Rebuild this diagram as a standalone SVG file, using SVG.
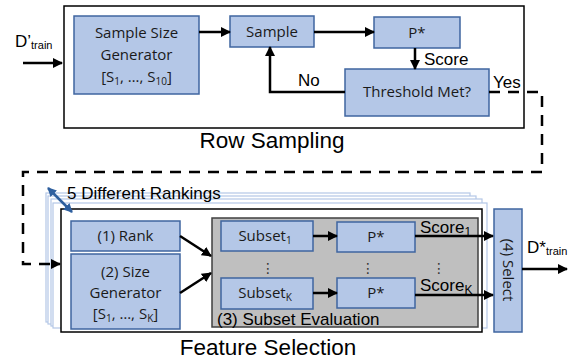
<svg xmlns="http://www.w3.org/2000/svg" width="574" height="362" viewBox="0 0 574 362">
  <style>
    .frame { fill: #ffffff; stroke: #000000; stroke-width: 1.5; }
    .stack { fill: #ffffff; stroke: #b4c7e7; stroke-width: 1.2; }
    .box { fill: #b4c7e7; stroke: #3f65a0; stroke-width: 1.5; }
    .eval { fill: #bfbfbf; stroke: #404040; stroke-width: 1.5; }
    .btxt { font-family: "Open Sans", "Liberation Sans", sans-serif; font-size: 15px; fill: #1a1a1a; text-anchor: middle; }
    .lbl { font-family: "Liberation Sans", Arial, sans-serif; font-size: 17px; fill: #000000; }
    .title { font-family: "Liberation Sans", Arial, sans-serif; font-size: 22.5px; fill: #000000; }
    .dots { font-family: "DejaVu Sans", sans-serif; font-size: 14px; fill: #333333; text-anchor: middle; }
    .conn { fill: none; stroke: #000000; stroke-width: 2.5; }
    .dash { fill: none; stroke: #000000; stroke-width: 2.5; stroke-dasharray: 11 8; }
  </style>
  <defs>
    <marker id="arrow" markerUnits="userSpaceOnUse" markerWidth="10" markerHeight="10" viewBox="0 0 10 10" refX="9" refY="5" orient="auto">
      <path d="M0,0 L10,5 L0,10 z" fill="#000000"/>
    </marker>
    <marker id="arrowBlue" markerUnits="userSpaceOnUse" markerWidth="9" markerHeight="9" viewBox="0 0 10 10" refX="9" refY="5" orient="auto-start-reverse">
      <path d="M0,0 L10,5 L0,10 z" fill="#2e5f9e"/>
    </marker>
  </defs>

  <!-- Row sampling stage -->
  <g id="row-sampling">
    <rect class="frame" x="64" y="6" width="460" height="122"/>
    <text class="title" x="272" y="148" text-anchor="middle">Row Sampling</text>
  </g>

  <g id="input-label">
    <text class="lbl" x="15" y="47" font-size="18">D’<tspan font-size="11" dy="2">train</tspan></text>
  </g>

  <g id="sample-size-generator">
    <rect class="box" x="74" y="16" width="125" height="78"/>
    <text class="btxt" x="136.5" y="38">Sample Size</text>
    <text class="btxt" x="136.5" y="60">Generator</text>
    <text class="btxt" x="136.5" y="82">[S<tspan font-size="10" dy="3">1</tspan><tspan dy="-3">, …, S</tspan><tspan font-size="10" dy="3">10</tspan><tspan dy="-3">]</tspan></text>
  </g>

  <g id="sample">
    <rect class="box" x="230" y="16" width="84" height="31"/>
    <text class="btxt" x="272" y="37">Sample</text>
  </g>

  <g id="p-star-row">
    <rect class="box" x="374" y="17" width="86" height="31"/>
    <text class="btxt" x="417" y="38">P*</text>
  </g>

  <g id="threshold">
    <rect class="box" x="345" y="69" width="144" height="47"/>
    <text class="btxt" x="417" y="97">Threshold Met?</text>
  </g>

  <!-- Feature selection stage: stacked frames for the rankings -->
  <g id="feature-selection">
    <rect class="stack" x="46" y="193" width="424" height="129"/>
    <rect class="stack" x="48" y="196" width="428" height="128"/>
    <rect class="stack" x="51" y="199" width="431" height="127"/>
    <rect class="stack" x="53" y="203" width="434" height="125"/>
    <rect class="frame" x="61" y="209" width="421" height="123"/>
    <line x1="48" y1="188" x2="72" y2="212" stroke="#2e5f9e" stroke-width="2.5" marker-start="url(#arrowBlue)" marker-end="url(#arrowBlue)"/>
    <text class="lbl" x="67" y="199">5 Different Rankings</text>
    <text class="title" x="268" y="355" text-anchor="middle">Feature Selection</text>
  </g>

  <g id="rank">
    <rect class="box" x="71" y="221" width="109" height="30"/>
    <text class="btxt" x="125.5" y="241">(1) Rank</text>
  </g>

  <g id="size-generator">
    <rect class="box" x="71" y="254" width="109" height="75"/>
    <text class="btxt" x="125.5" y="277">(2) Size</text>
    <text class="btxt" x="125.5" y="298">Generator</text>
    <text class="btxt" x="125.5" y="319">[S<tspan font-size="10" dy="3">1</tspan><tspan dy="-3">, …, S</tspan><tspan font-size="10" dy="3">K</tspan><tspan dy="-3">]</tspan></text>
  </g>

  <g id="subset-evaluation">
    <rect class="eval" x="212" y="218" width="266" height="109"/>
    <text class="lbl" x="217" y="325" font-size="17.5">(3) Subset Evaluation</text>
    <text class="dots" x="268" y="273">⋮</text>
    <text class="dots" x="368" y="273">⋮</text>
    <text class="dots" x="439" y="273">⋮</text>
  </g>

  <g id="subset-1">
    <rect class="box" x="221" y="221" width="92" height="30"/>
    <text class="btxt" x="265" y="241">Subset<tspan font-size="10" dy="3">1</tspan></text>
  </g>

  <g id="subset-k">
    <rect class="box" x="221" y="278" width="92" height="31"/>
    <text class="btxt" x="265" y="298">Subset<tspan font-size="10" dy="3">K</tspan></text>
  </g>

  <g id="p-star-1">
    <rect class="box" x="337" y="222" width="78" height="30"/>
    <text class="btxt" x="376" y="242">P*</text>
  </g>

  <g id="p-star-k">
    <rect class="box" x="337" y="278" width="78" height="30"/>
    <text class="btxt" x="376" y="298">P*</text>
  </g>

  <g id="select">
    <rect class="box" x="494" y="209" width="28" height="123"/>
    <text class="btxt" transform="translate(508 270) rotate(90)" x="0" y="5">(4) Select</text>
  </g>

  <g id="output-label">
    <text class="lbl" x="527" y="253">D*<tspan font-size="11" dy="2">train</tspan></text>
  </g>

  <!-- Connectors -->
  <g id="connectors">
    <path class="conn" d="M23 63 H62" marker-end="url(#arrow)"/>
    <path class="conn" d="M199 32 H230" marker-end="url(#arrow)"/>
    <path class="conn" d="M314 32 H374" marker-end="url(#arrow)"/>
    <path class="conn" d="M415 48 V69" marker-end="url(#arrow)"/>
    <path class="conn" d="M345 92 H270 V47" marker-end="url(#arrow)"/>
    <text class="lbl" x="424" y="65">Score</text>
    <text class="lbl" x="298" y="86">No</text>
    <text class="lbl" x="493" y="88">Yes</text>
    <path class="dash" d="M489 92 H542 V172 H23 V264 H60" marker-end="url(#arrow)"/>
    <path class="conn" d="M180 236 L211 256" marker-end="url(#arrow)"/>
    <path class="conn" d="M180 293 L211 273" marker-end="url(#arrow)"/>
    <path class="conn" d="M313 236 H337" marker-end="url(#arrow)"/>
    <path class="conn" d="M313 293 H337" marker-end="url(#arrow)"/>
    <path class="conn" d="M415 236 H493" marker-end="url(#arrow)"/>
    <path class="conn" d="M415 295 H493" marker-end="url(#arrow)"/>
    <text class="lbl" x="420" y="233">Score<tspan font-size="12" dy="3">1</tspan></text>
    <text class="lbl" x="420" y="291">Score<tspan font-size="12" dy="3">K</tspan></text>
    <path class="conn" d="M522 269 H567" marker-end="url(#arrow)"/>
  </g>
</svg>
